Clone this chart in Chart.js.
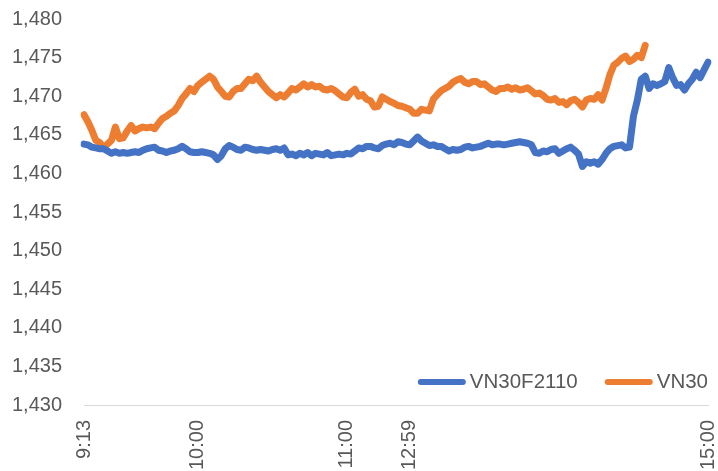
<!DOCTYPE html>
<html>
<head>
<meta charset="utf-8">
<script src="https://cdn.jsdelivr.net/npm/chart.js@4/dist/chart.umd.min.js"></script>
<style>
html,body{margin:0;padding:0;background:#fff;}
#wrap{width:718px;height:471px;position:relative;}
</style>
</head>
<body>
<div id="wrap"><canvas id="c" width="718" height="471"></canvas></div>
<script>
// Shown time labels and number of samples between consecutive labels
const tickLabels = ['9:13', '10:00', '11:00', '12:59', '15:00'];
const segmentSteps = [29, 38, 16, 76];

const seriesNames = ['VN30F2110', 'VN30'];

const vn30f2110 = [
  1463.8,1463.7,1463.4,1463.3,1463.2,1463.2,1462.9,1462.6,1462.8,1462.6,
  1462.7,1462.6,1462.7,1462.8,1462.7,1463.0,1463.2,1463.3,1463.4,1463.0,
  1462.9,1462.7,1462.9,1463.0,1463.2,1463.5,1463.2,1462.8,1462.7,1462.7,
  1462.8,1462.7,1462.6,1462.4,1461.8,1462.3,1463.2,1463.6,1463.4,1463.1,
  1463.0,1463.4,1463.3,1463.1,1463.0,1463.1,1463.0,1462.9,1463.1,1463.2,
  1463.0,1463.3,1462.4,1462.5,1462.3,1462.6,1462.4,1462.7,1462.3,1462.6,
  1462.5,1462.4,1462.7,1462.3,1462.4,1462.5,1462.4,1462.6,1462.5,1462.9,
  1463.3,1463.2,1463.5,1463.5,1463.3,1463.2,1463.6,1463.8,1463.9,1463.7,
  1464.1,1464.0,1463.8,1463.7,1464.2,1464.7,1464.2,1463.9,1463.6,1463.7,
  1463.5,1463.5,1463.2,1462.9,1463.1,1463.0,1463.1,1463.4,1463.5,1463.3,
  1463.4,1463.5,1463.7,1463.9,1463.7,1463.8,1463.8,1463.7,1463.8,1463.9,
  1464.0,1464.1,1464.0,1463.9,1463.7,1462.7,1462.6,1462.9,1462.8,1463.1,
  1463.2,1462.6,1462.9,1463.2,1463.4,1463.0,1462.5,1460.9,1461.5,1461.3,
  1461.5,1461.2,1461.8,1462.6,1463.2,1463.5,1463.6,1463.7,1463.3,1463.4,
  1467.4,1469.5,1472.2,1472.6,1471.0,1471.6,1471.4,1471.6,1471.9,1473.7,
  1472.4,1471.4,1471.5,1470.8,1471.6,1472.2,1473.1,1472.4,1473.4,1474.4
];

const vn30 = [
  1467.6,1466.7,1465.6,1464.3,1464.0,1463.3,1463.8,1464.3,1466.0,1464.5,
  1464.6,1465.5,1466.2,1465.5,1465.8,1466.0,1465.9,1466.0,1465.8,1466.5,
  1467.1,1467.4,1467.8,1468.1,1468.8,1469.7,1470.3,1471.0,1470.6,1471.4,
  1471.8,1472.2,1472.6,1472.2,1471.2,1470.6,1470.0,1469.9,1470.6,1471.0,
  1471.0,1471.6,1472.2,1472.0,1472.6,1471.8,1471.2,1470.6,1470.2,1469.8,
  1470.2,1469.9,1470.4,1471.0,1470.8,1471.2,1471.6,1471.2,1471.5,1471.2,
  1471.3,1470.9,1470.8,1471.0,1470.7,1470.3,1469.9,1469.8,1470.5,1470.9,
  1470.0,1470.2,1469.6,1469.4,1468.6,1468.7,1469.9,1469.6,1469.3,1469.1,
  1468.8,1468.7,1468.5,1468.3,1467.8,1467.8,1468.3,1468.2,1468.1,1469.6,
  1470.2,1470.7,1471.0,1471.3,1471.8,1472.1,1472.3,1471.8,1471.6,1471.9,
  1471.9,1471.5,1471.6,1471.2,1470.8,1470.6,1471.0,1471.0,1471.2,1470.9,
  1471.1,1470.8,1470.9,1471.1,1470.7,1470.3,1470.4,1470.1,1469.6,1469.5,
  1469.7,1469.2,1469.3,1468.9,1469.4,1469.6,1469.2,1468.6,1469.5,1469.7,
  1469.6,1470.2,1469.5,1471.0,1472.8,1474.0,1474.4,1474.9,1475.2,1474.5,
  1474.8,1475.3,1475.0,1476.6
];

const yMin = 1430, yMax = 1480, yStep = 5;

// Build category labels (one per sample) from the shown labels
function toMin(s){const p=s.split(':');return (+p[0])*60+(+p[1]);}
function toStr(m){m=Math.round(m);return Math.floor(m/60)+':'+String(m%60).padStart(2,'0');}
const times = [tickLabels[0]];
for (let s = 0; s < segmentSteps.length; s++) {
  const a = toMin(tickLabels[s]), b = toMin(tickLabels[s+1]), n = segmentSteps[s];
  for (let k = 1; k <= n; k++) times.push(k === n ? tickLabels[s+1] : toStr(a + (b - a) * k / n) + '\u200b');
}

const BLUE = '#4472C4', ORANGE = '#ED7D31', GREY = '#595959';
const FONT = "'Liberation Sans', Arial, sans-serif";

const legendPlugin = {
  id: 'insideLegend',
  afterDraw(chart) {
    const ctx = chart.ctx, ca = chart.chartArea;
    ctx.save();
    ctx.font = '20.5px ' + FONT;
    ctx.textBaseline = 'middle';
    const y = ca.bottom - 23;
    const sample = 48, gapT = 4, gapItem = 27;
    const ds = chart.data.datasets;
    let x = ca.right;
    const items = [];
    for (let i = ds.length - 1; i >= 0; i--) {
      const w = ctx.measureText(ds[i].label).width;
      const tx = x - w;
      const sx = tx - gapT - sample;
      items.push({i, tx, sx});
      x = sx - gapItem;
    }
    items.forEach(it => {
      const d = ds[it.i];
      ctx.strokeStyle = d.borderColor;
      ctx.lineWidth = 6;
      ctx.lineCap = 'round';
      ctx.beginPath();
      ctx.moveTo(it.sx + 3, y);
      ctx.lineTo(it.sx + sample - 3, y);
      ctx.stroke();
      ctx.fillStyle = GREY;
      ctx.textAlign = 'left';
      ctx.fillText(d.label, it.tx, y);
    });
    ctx.restore();
  }
};

new Chart(document.getElementById('c'), {
  type: 'line',
  data: {
    labels: times,
    datasets: [
      {label: seriesNames[0], data: vn30f2110, borderColor: BLUE, backgroundColor: BLUE},
      {label: seriesNames[1], data: vn30, borderColor: ORANGE, backgroundColor: ORANGE}
    ]
  },
  options: {
    responsive: false,
    animation: false,
    devicePixelRatio: 1,
    layout: {padding: {top: 19, right: 10, left: 0, bottom: 0}},
    elements: {
      point: {radius: 0, hoverRadius: 0},
      line: {borderWidth: 7, tension: 0, borderJoinStyle: 'round', borderCapStyle: 'round'}
    },
    plugins: {legend: {display: false}, tooltip: {enabled: false}},
    scales: {
      x: {
        type: 'category',
        offset: false,
        grid: {display: false, drawTicks: false},
        border: {display: true, color: '#D9D9D9', width: 1},
        afterFit(scale) { scale.height = 66; scale.paddingRight = 0; scale.paddingLeft = 0; scale.paddingTop = 0; scale.paddingBottom = 0; },
        ticks: {
          autoSkip: false, maxRotation: 90, minRotation: 90,
          padding: 15, color: GREY, font: {family: FONT, size: 20},
          callback(val) {
            const l = this.getLabelForValue(val);
            return tickLabels.includes(l) ? l : null;
          }
        }
      },
      y: {
        min: yMin, max: yMax,
        grid: {display: false, drawTicks: false},
        border: {display: false},
        afterFit(scale) { scale.width = 84; scale.paddingTop = 0; scale.paddingBottom = 0; },
        ticks: {
          stepSize: yStep, padding: 22, color: GREY,
          font: {family: FONT, size: 20},
          callback(v) { return v.toLocaleString('en-US'); }
        }
      }
    }
  },
  plugins: [legendPlugin]
});
</script>
</body>
</html>
